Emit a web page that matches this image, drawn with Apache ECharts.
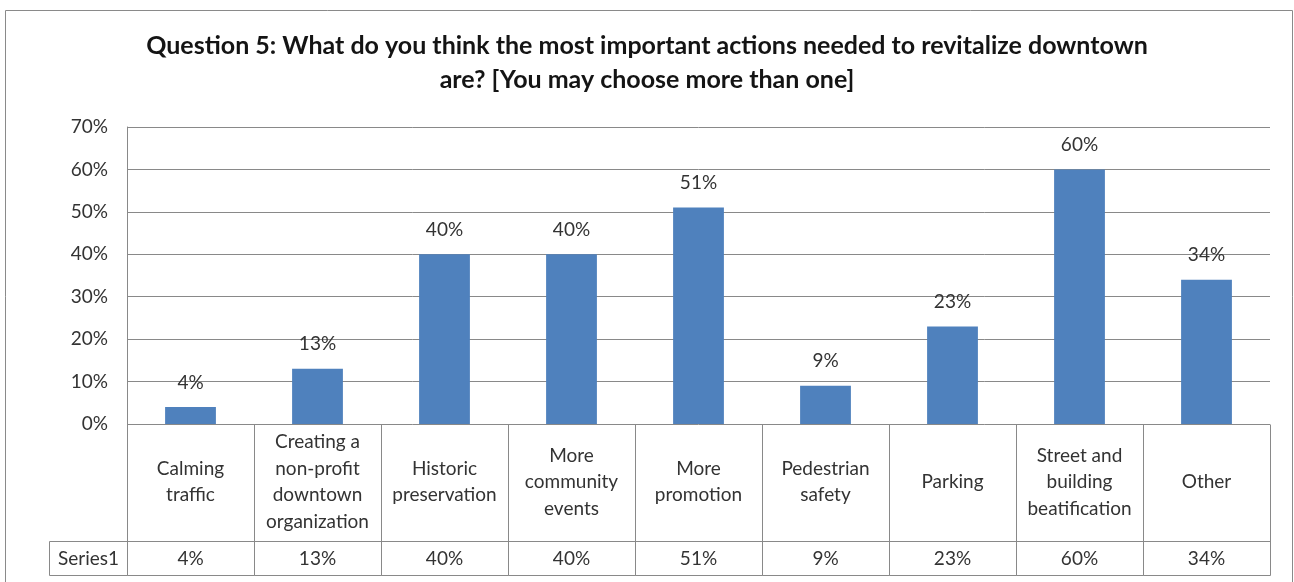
<!DOCTYPE html>
<html>
<head>
<meta charset="utf-8">
<script src="https://cdn.jsdelivr.net/npm/echarts@6/dist/echarts.min.js"></script>
<style>
  html, body { margin: 0; padding: 0; background: #fff; }
  #chart { width: 1294px; height: 582px; }
</style>
</head>
<body>
<div id="chart"></div>
<script>
// Survey answers: share of respondents choosing each action
const titleText = 'Question 5: What do you think the most important actions needed to revitalize downtown\nare? [You may choose more than one]';
const seriesName = 'Series1';
const categories = [
  'Calming\ntraffic',
  'Creating a\nnon-profit\ndowntown\norganization',
  'Historic\npreservation',
  'More\ncommunity\nevents',
  'More\npromotion',
  'Pedestrian\nsafety',
  'Parking',
  'Street and\nbuilding\nbeatification',
  'Other'
];
const values = [0.04, 0.13, 0.40, 0.40, 0.51, 0.09, 0.23, 0.60, 0.34];
const yTicks = { min: 0, max: 0.7, interval: 0.1 };

const FONT = 'Lato, "Open Sans", sans-serif';
const TEXT = '#333333';
const LINE = '#898989';
const FS = 19;
const pct = v => Math.round(v * 100) + '%';

const chart = echarts.init(document.getElementById('chart'), null, { renderer: 'canvas' });

// Data table under the plot: category row + value row, with a row header on the left
function renderTable(params, api) {
  const cs = params.coordSys;
  const i = api.value(0);
  const v = api.value(1);
  const w = api.size([1, 0])[0];
  const cx = api.coord([i, 0])[0];
  const x0 = Math.round(cx - w / 2) + 0.5;
  const x1 = Math.round(cx + w / 2) + 0.5;
  const yTop = Math.round(cs.y) + 0.5;
  const yMid = Math.round(cs.y + cs.height * 0.775) + 0.5;
  const yBot = Math.round(cs.y + cs.height) + 0.5;
  const ls = { stroke: LINE, lineWidth: 1 };
  const children = [
    { type: 'line', shape: { x1: x0, y1: yTop, x2: x0, y2: yBot }, style: ls },
    { type: 'line', shape: { x1: x1, y1: yTop, x2: x1, y2: yBot }, style: ls },
    { type: 'line', shape: { x1: x0, y1: yMid, x2: x1, y2: yMid }, style: ls },
    { type: 'line', shape: { x1: x0, y1: yBot, x2: x1, y2: yBot }, style: ls },
    { type: 'text', style: {
        text: categories[i], x: cx, y: (yTop + yMid) / 2 - 1,
        align: 'center', verticalAlign: 'middle',
        font: FS + 'px ' + FONT, fill: TEXT, lineHeight: 26.5
    } },
    { type: 'text', style: {
        text: pct(v), x: cx, y: (yMid + yBot) / 2,
        align: 'center', verticalAlign: 'middle',
        font: FS + 'px ' + FONT, fill: TEXT
    } }
  ];
  if (i === 0) {
    const hx = x0 - 78;
    children.push(
      { type: 'rect', shape: { x: hx, y: yMid, width: x0 - hx, height: yBot - yMid },
        style: { fill: 'none', stroke: LINE, lineWidth: 1 } },
      { type: 'text', style: {
          text: seriesName, x: (hx + x0) / 2, y: (yMid + yBot) / 2,
          align: 'center', verticalAlign: 'middle',
          font: FS + 'px ' + FONT, fill: TEXT
      } }
    );
  }
  return { type: 'group', children };
}

chart.setOption({
  backgroundColor: '#fff',
  animation: false,
  title: {
    text: titleText,
    left: 'center',
    top: 24,
    textStyle: { fontFamily: FONT, fontWeight: 'bold', fontSize: 25, color: '#141414', lineHeight: 34 }
  },
  grid: [
    { left: 127, right: 24, top: 127, bottom: 158, containLabel: false },
    { left: 127, right: 24, top: 424, height: 151, containLabel: false }
  ],
  xAxis: [
    { type: 'category', gridIndex: 0, data: categories,
      axisLine: { show: false }, axisTick: { show: false }, axisLabel: { show: false } },
    { type: 'category', gridIndex: 1, data: categories,
      axisLine: { show: false }, axisTick: { show: false }, axisLabel: { show: false } }
  ],
  yAxis: [
    { type: 'value', gridIndex: 0, min: yTicks.min, max: yTicks.max, interval: yTicks.interval,
      axisLine: { show: true, lineStyle: { color: LINE, width: 1 } },
      axisTick: { show: false },
      splitLine: { show: true, lineStyle: { color: LINE, width: 1 } },
      axisLabel: { formatter: v => pct(v), fontFamily: FONT, fontSize: FS, color: TEXT, margin: 19 } },
    { type: 'value', gridIndex: 1, min: 0, max: 1, show: false }
  ],
  series: [
    { name: seriesName, type: 'bar', xAxisIndex: 0, yAxisIndex: 0, data: values,
      barWidth: '40%',
      itemStyle: { color: '#4f81bd' },
      label: { show: true, position: 'top', distance: 15, formatter: p => pct(p.value),
               fontFamily: FONT, fontSize: FS, color: TEXT } },
    { type: 'custom', xAxisIndex: 1, yAxisIndex: 1, clip: false,
      data: values.map((v, i) => [i, v]),
      renderItem: renderTable, silent: true }
  ],
  graphic: [
    { type: 'rect', left: 3, top: 8, shape: { width: 1287, height: 590 },
      style: { fill: 'none', stroke: '#8a8a8a', lineWidth: 1 }, silent: true }
  ]
});
</script>
</body>
</html>
